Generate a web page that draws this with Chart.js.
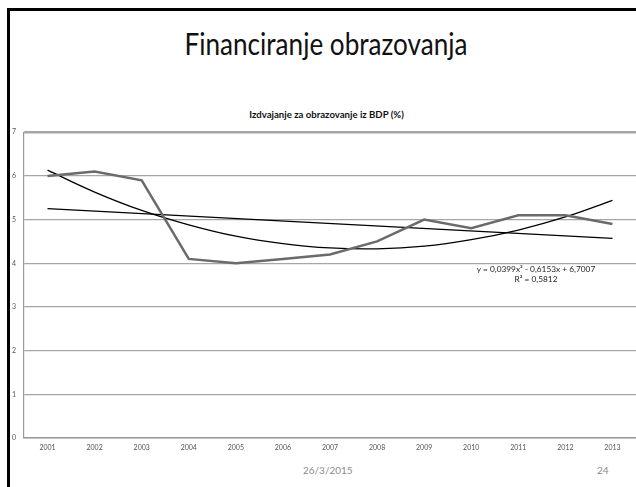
<!DOCTYPE html>
<html>
<head>
<meta charset="utf-8">
<script src="https://cdn.jsdelivr.net/npm/chart.js@4"></script>
<style>
  html, body { margin: 0; padding: 0; background: #fff; }
  body { width: 636px; height: 487px; position: relative; overflow: hidden; font-family: Lato, "Open Sans", sans-serif; }
  .frame { position: absolute; left: 7px; top: 8px; width: 640px; height: 500px; border-top: 3px solid #000; border-left: 3px solid #000; }
  .title { position: absolute; left: 0; width: 652px; top: 25px; text-align: center; font-size: 30px; color: #111; transform: scaleX(0.87); transform-origin: 326px 0; }
  .ctitle { position: absolute; left: 0; width: 653px; top: 109px; text-align: center; font-size: 9.6px; font-weight: bold; color: #111; }
  .eq { position: absolute; left: 436px; width: 200px; top: 264px; text-align: center; font-size: 8.3px; line-height: 10px; color: #222; }
  .foot { position: absolute; top: 464px; font-size: 10px; color: #8c8c8c; }
  #wrap { position: absolute; left: 0; top: 120px; width: 636px; height: 340px; }
</style>
</head>
<body>
<div class="frame"></div>
<div class="title">Financiranje obrazovanja</div>
<div class="ctitle">Izdvajanje za obrazovanje iz BDP (%)</div>
<div id="wrap"><canvas id="chart"></canvas></div>
<div class="eq">y = 0,0399x² - 0,6153x + 6,7007<br>R² = 0,5812</div>
<div class="foot" style="left:303px">26/3/2015</div>
<div class="foot" style="left:597px">24</div>
<script>
const years = ['2001', '2002', '2003', '2004', '2005', '2006', '2007', '2008', '2009', '2010', '2011', '2012', '2013']
const share = [6.0, 6.1, 5.9, 4.1, 4.0, 4.1, 4.2, 4.5, 5.0, 4.8, 5.1, 5.1, 4.9]
// trend lines
const polyTrend = [6.13, 5.63, 5.21, 4.88, 4.62, 4.45, 4.35, 4.33, 4.39, 4.54, 4.76, 5.06, 5.44]
const linTrend = [5.25, null, null, null, null, null, null, null, null, null, null, null, 4.57]

const ctx = document.getElementById('chart').getContext('2d')
new Chart(ctx, {
  type: 'line',
  data: {
    labels: years,
    datasets: [
      { data: share, borderColor: '#6b6b6b', borderWidth: 2.5, pointRadius: 0, tension: 0 },
      { data: polyTrend, borderColor: '#000', borderWidth: 1.3, pointRadius: 0, tension: 0.4 },
      { data: linTrend, borderColor: '#000', borderWidth: 1.1, pointRadius: 0, spanGaps: true }
    ]
  },
  options: {
    responsive: true,
    maintainAspectRatio: false,
    animation: false,
    layout: { padding: { top: 12, left: 0, right: 0, bottom: 0 } },
    plugins: { legend: { display: false }, tooltip: { enabled: false } },
    scales: {
      x: {
        offset: true,
        grid: { display: false, drawTicks: false },
        border: { color: '#9a9a9a', width: 1.5 },
        ticks: { color: '#555', font: { family: 'Lato', size: 7 }, padding: 6, maxRotation: 0, autoSkip: false },
        afterFit: (s) => { s.height = 22 }
      },
      y: {
        min: 0, max: 7,
        grid: {
          color: '#a6a6a6',
          // top line sits on the plot edge and loses half its width
          lineWidth: (c) => (c.tick && c.tick.value === 7 ? 2.4 : 1.2),
          drawTicks: false
        },
        border: { color: '#9a9a9a', width: 1.2 },
        ticks: { stepSize: 1, color: '#555', font: { family: 'Lato', size: 7 }, padding: 8 },
        afterFit: (s) => { s.width = 24 }
      }
    }
  }
})
</script>
</body>
</html>
